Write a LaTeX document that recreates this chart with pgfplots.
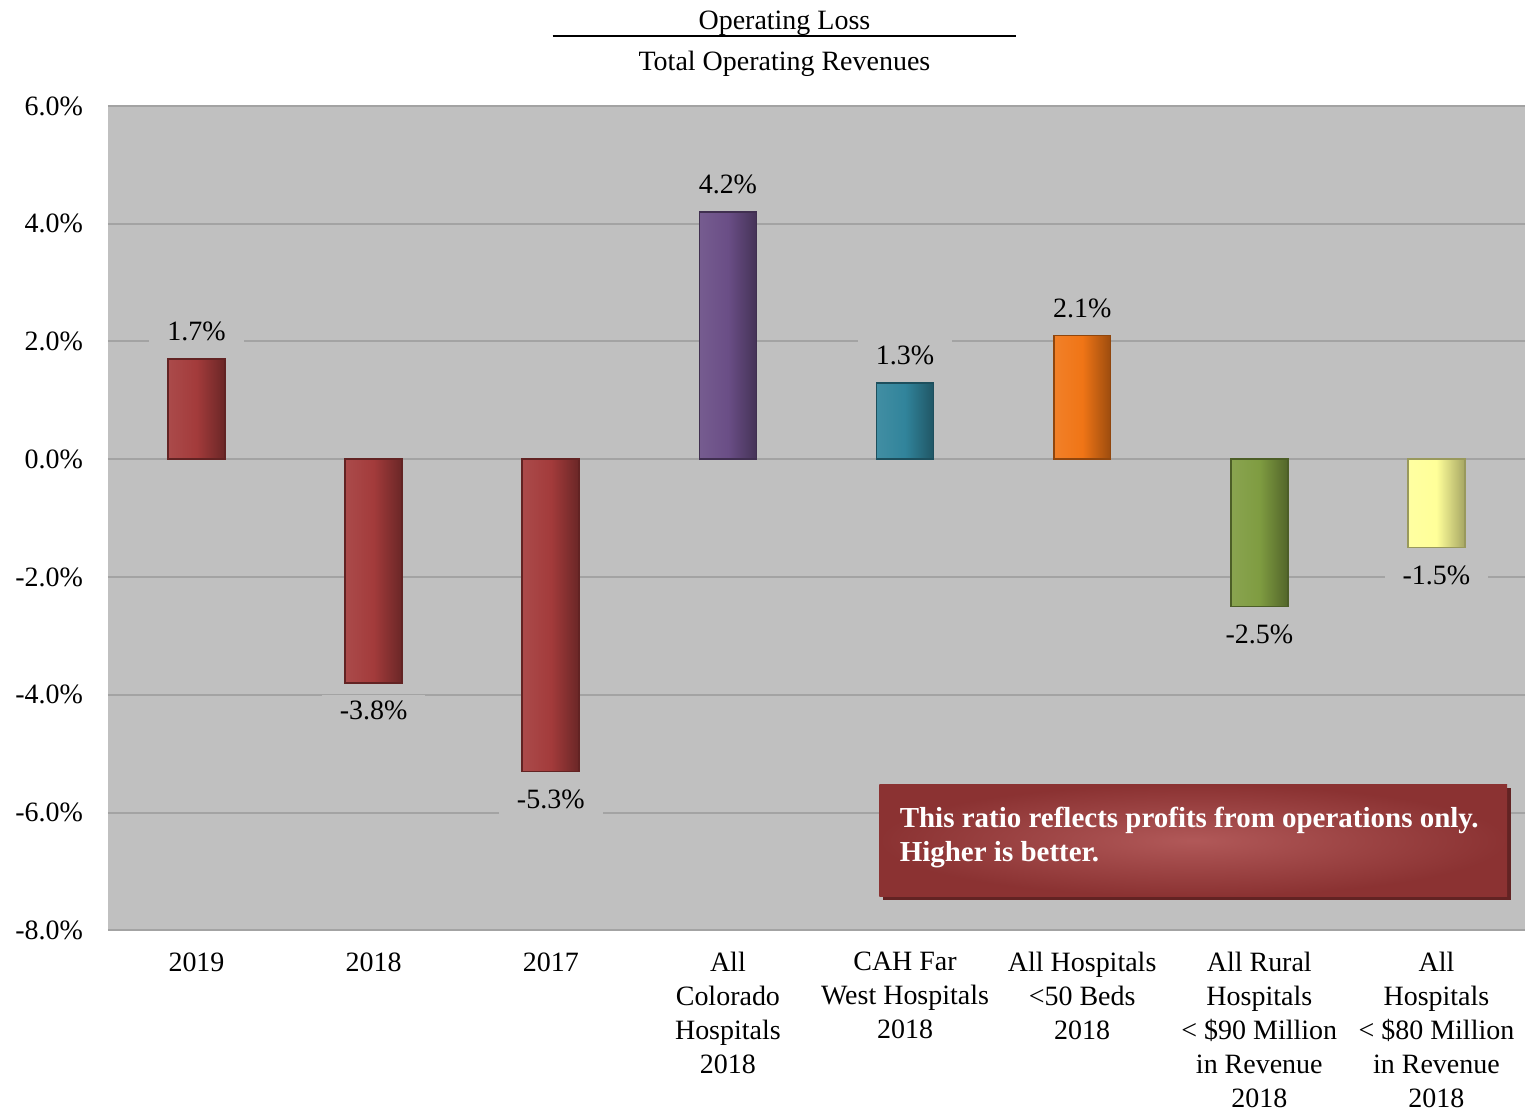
\documentclass[border=0pt]{standalone}
\usepackage{fontspec}
\setmainfont{Liberation Serif}
\usepackage{pgfplots}
\pgfplotsset{compat=1.18}

\definecolor{plotbg}{HTML}{C0C0C0}
\definecolor{gridc}{HTML}{A3A3A3}
\definecolor{cRed}{HTML}{A33B3B}
\definecolor{cPurple}{HTML}{6A4E86}
\definecolor{cTeal}{HTML}{31849B}
\definecolor{cOrange}{HTML}{F07516}
\definecolor{cGreen}{HTML}{7F9C41}
\definecolor{cYellow}{HTML}{FFFF99}
\definecolor{boxc}{HTML}{A33B3B}

% one style per bar colour, shaded a little to suggest the bevel
\pgfplotsset{
  barcol/.style={fill=#1, draw=#1!60!black, line width=0.8pt,
    left color=#1!92!white, right color=#1!65!black, middle color=#1},
}

\begin{document}
\begin{tikzpicture}
\begin{axis}[
    scale only axis,
    width=709pt, height=412.5pt,
    ybar, bar width=28.5pt, bar shift=0pt,
    xmin=-0.5, xmax=7.5,
    ymin=-8, ymax=6,
    ytick={-8,-6,-4,-2,0,2,4,6},
    xtick={0,1,2,3,4,5,6,7},
    xticklabels={2019, 2018, 2017,
      {All\\Colorado\\Hospitals\\2018},
      {CAH Far\\West Hospitals\\2018},
      {All Hospitals\\<50 Beds\\2018},
      {All Rural\\Hospitals\\< \$90 Million\\in Revenue\\2018},
      {All\\Hospitals\\< \$80 Million\\in Revenue\\2018}},
    xticklabel style={align=center, font=\fontsize{14}{17}\selectfont, anchor=north, yshift=-7.5pt},
    yticklabel style={font=\fontsize{14}{17}\selectfont, xshift=-9pt},
    yticklabel={\pgfmathprintnumber[fixed,fixed zerofill,precision=1,assume math mode=true]{\tick}\%},
    major tick length=0pt,
    axis line style={draw=none},
    axis background/.style={fill=plotbg},
    ymajorgrids=true,
    grid style={gridc, line width=1pt},
    nodes near coords={\pgfmathprintnumber[fixed,fixed zerofill,precision=1,assume math mode=true]{\pgfplotspointmeta}\%},
    every node near coord/.append style={font=\fontsize{14}{17}\selectfont, fill=plotbg,
      inner xsep=9pt, inner ysep=3pt, outer ysep=6pt, text=black},
    clip=false,
]
\addplot[barcol=cRed] coordinates {(0,1.7)};
\addplot[barcol=cRed] coordinates {(1,-3.8)};
\addplot[barcol=cRed] coordinates {(2,-5.3)};
\addplot[barcol=cPurple] coordinates {(3,4.2)};
\addplot[barcol=cTeal] coordinates {(4,1.3)};
\addplot[barcol=cOrange] coordinates {(5,2.1)};
\addplot[barcol=cGreen] coordinates {(6,-2.5)};
\addplot[barcol=cYellow] coordinates {(7,-1.5)};

% keep the page's top and left margins
\path ([yshift=53pt]axis description cs:0,1);
\path ([xshift=-54pt]axis description cs:0,0.5);

% title as a fraction
\node[font=\fontsize{14}{17}\selectfont] at ([yshift=41.5pt]axis description cs:0.4774,1) {Operating Loss};
\draw[line width=1pt] ([xshift=-116pt,yshift=35pt]axis description cs:0.4774,1) -- ([xshift=116pt,yshift=35pt]axis description cs:0.4774,1);
\node[font=\fontsize{14}{17}\selectfont] at ([yshift=21pt]axis description cs:0.4774,1) {Total Operating Revenues};

% note box
\fill[boxc!60!black] ([xshift=2pt,yshift=-2pt]axis description cs:0.5444,0.0412) rectangle ([xshift=2pt,yshift=-2pt]axis description cs:0.9873,0.177);
\shade[inner color=boxc!85!white, outer color=boxc!85!black] (axis description cs:0.5444,0.0412) rectangle (axis description cs:0.9873,0.177);
\node[anchor=north west, text=white, font=\bfseries\fontsize{14.5}{17}\selectfont, align=left, inner sep=0pt]
  at ([xshift=10pt,yshift=-11pt]axis description cs:0.5444,0.177)
  {This ratio reflects profits from operations only.\\Higher is better.};
\end{axis}
\end{tikzpicture}
\end{document}
